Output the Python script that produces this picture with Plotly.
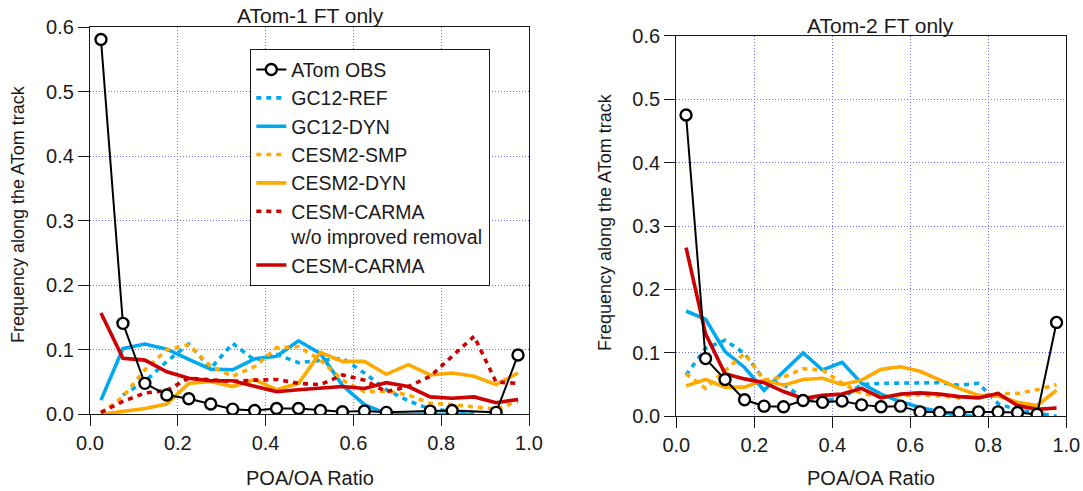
import plotly.graph_objects as go

# ---------------- data ----------------
poa_oa_bins = [0.025, 0.075, 0.125, 0.175, 0.225, 0.275, 0.325, 0.375, 0.425, 0.475,
               0.525, 0.575, 0.625, 0.675, 0.725, 0.775, 0.825, 0.875, 0.925, 0.975]

# ATom-1 FT only
atom1_obs = [0.581, 0.141, 0.048, 0.030, 0.024, 0.016, 0.008, 0.006, 0.009, 0.009,
             0.006, 0.004, 0.005, 0.003, None, 0.005, 0.006, None, 0.003, 0.092]
atom1_gc12_ref = [None, 0.030, 0.051, 0.082, 0.109, 0.071, 0.110, 0.084, 0.093, 0.080,
                  0.084, 0.087, 0.064, 0.038, 0.021, 0.008, 0.005, 0.002, None, None]
atom1_gc12_dyn = [0.022, 0.102, 0.109, 0.101, 0.085, 0.070, 0.069, 0.086, 0.090, 0.114,
                  0.094, 0.045, 0.015, 0.001, 0.000, 0.000, 0.000, 0.000, None, None]
atom1_cesm2_smp = [0.002, 0.027, 0.069, 0.100, 0.108, 0.074, 0.059, 0.074, 0.103, 0.105,
                   0.084, 0.053, 0.035, 0.036, 0.030, 0.017, 0.015, 0.012, 0.008, 0.020]
atom1_cesm2_dyn = [0.000, 0.004, 0.009, 0.016, 0.048, 0.051, 0.043, 0.054, 0.038, 0.048,
                   0.096, 0.082, 0.082, 0.062, 0.077, 0.061, 0.064, 0.059, 0.046, 0.064]
atom1_carma_wo = [0.003, 0.020, 0.033, 0.037, 0.056, 0.053, 0.051, 0.053, 0.054, 0.048,
                  0.046, 0.061, 0.053, 0.035, 0.043, 0.059, 0.090, 0.121, 0.050, 0.048]
atom1_carma = [0.157, 0.087, 0.084, 0.066, 0.056, 0.052, 0.052, 0.043, 0.035, 0.038,
               0.041, 0.043, 0.040, 0.049, 0.043, 0.027, 0.025, 0.027, 0.018, 0.023]

# ATom-2 FT only
atom2_obs = [0.475, 0.091, 0.058, 0.026, 0.016, 0.015, 0.025, 0.022, 0.024, 0.018,
             0.015, 0.016, 0.007, 0.006, 0.006, 0.007, 0.007, 0.006, 0.003, 0.148]
atom2_gc12_ref = [0.065, 0.107, 0.120, 0.099, 0.058, 0.050, 0.029, 0.025, 0.028, 0.050,
                  0.052, 0.052, 0.053, 0.053, 0.049, 0.052, 0.020, 0.010, 0.005, 0.000]
atom2_gc12_dyn = [0.166, 0.153, 0.102, 0.077, 0.041, 0.070, 0.100, 0.073, 0.085, 0.052,
                  0.035, 0.023, 0.014, 0.007, 0.001, 0.000, None, None, None, None]
atom2_cesm2_smp = [0.067, 0.044, 0.072, 0.099, 0.057, 0.062, 0.075, 0.073, 0.052, 0.036,
                   0.031, 0.033, 0.034, 0.032, 0.029, 0.033, 0.036, 0.036, 0.042, 0.050]
atom2_cesm2_dyn = [0.048, 0.058, 0.046, 0.046, 0.057, 0.049, 0.058, 0.060, 0.050, 0.057,
                   0.074, 0.078, 0.071, 0.057, 0.044, 0.033, 0.032, 0.022, 0.017, 0.041]
atom2_carma = [0.266, 0.130, 0.067, 0.059, 0.053, 0.039, 0.028, 0.033, 0.035, 0.044,
               0.029, 0.035, 0.037, 0.035, 0.031, 0.029, 0.036, 0.017, 0.011, 0.013]

panel_titles = ["ATom-1 FT only", "ATom-2 FT only"]
x_title = "POA/OA Ratio"
y_title = "Frequency along the ATom track"

# ---------------- styling ----------------
BLUE = "#00A9EE"
ORANGE = "#FFAA00"
RED = "#CC0000"
DOT = "5px,5px"
FONT = "Liberation Sans, Arial, sans-serif"
INK = "#1a1a1a"

fig = go.Figure()

def model(xa, ya, y, name, color, dotted, rank, show):
    fig.add_trace(go.Scatter(
        x=poa_oa_bins, y=y, name=name, mode="lines",
        line=dict(color=color, width=3.6, dash=DOT if dotted else "solid"),
        xaxis=xa, yaxis=ya, legendrank=rank, showlegend=show,
        connectgaps=False))

def obs(xa, ya, y, show):
    fig.add_trace(go.Scatter(
        x=poa_oa_bins, y=y, name="ATom OBS", mode="lines+markers",
        line=dict(color="black", width=2),
        marker=dict(symbol="circle", size=11, color="white",
                    line=dict(color="black", width=2.4)),
        xaxis=xa, yaxis=ya, legendrank=1, showlegend=show, connectgaps=True))

# left panel
model("x", "y", atom1_gc12_ref, "GC12-REF", BLUE, True, 2, True)
model("x", "y", atom1_gc12_dyn, "GC12-DYN", BLUE, False, 3, True)
model("x", "y", atom1_cesm2_smp, "CESM2-SMP", ORANGE, True, 4, True)
model("x", "y", atom1_cesm2_dyn, "CESM2-DYN", ORANGE, False, 5, True)
model("x", "y", atom1_carma_wo, "CESM-CARMA<br>w/o improved removal", RED, True, 6, True)
model("x", "y", atom1_carma, "CESM-CARMA", RED, False, 7, True)
obs("x", "y", atom1_obs, True)

# right panel
model("x2", "y2", atom2_gc12_ref, "GC12-REF", BLUE, True, 2, False)
model("x2", "y2", atom2_gc12_dyn, "GC12-DYN", BLUE, False, 3, False)
model("x2", "y2", atom2_cesm2_smp, "CESM2-SMP", ORANGE, True, 4, False)
model("x2", "y2", atom2_cesm2_dyn, "CESM2-DYN", ORANGE, False, 5, False)
model("x2", "y2", atom2_carma, "CESM-CARMA", RED, False, 7, False)
obs("x2", "y2", atom2_obs, False)

W, H = 1083, 491
def px(v):
    return v / W
def py(v):
    return 1 - v / H

axis_common = dict(
    automargin=False,
    showline=True, linecolor=INK, linewidth=1.3, mirror=True,
    ticks="outside", ticklen=11, tickwidth=1.3, tickcolor=INK,
    showgrid=True, gridcolor="#7070ff", griddash="1px,2px", gridwidth=1,
    zeroline=False, tickfont=dict(family=FONT, size=20, color=INK),
    tickformat=".1f",
)

fig.update_layout(
    template="none",
    width=W, height=H,
    margin=dict(l=0, r=0, t=0, b=0, pad=0, autoexpand=False),
    paper_bgcolor="white", plot_bgcolor="white",
    font=dict(family=FONT, color=INK),
    xaxis=dict(domain=[px(90), px(529)], range=[0, 1], dtick=0.2, anchor="y", **axis_common),
    yaxis=dict(domain=[py(414.3), py(27.3)], range=[0, 0.6], dtick=0.1, anchor="x", **axis_common),
    xaxis2=dict(domain=[px(676.3), px(1066.3)], range=[0, 1], dtick=0.2, anchor="y2", **axis_common),
    yaxis2=dict(domain=[py(416.3), py(35.7)], range=[0, 0.6], dtick=0.1, anchor="x2", **axis_common),
    legend=dict(x=px(250), y=py(49), xanchor="left", yanchor="top",
                bgcolor="white", bordercolor=INK, borderwidth=1.3,
                font=dict(family=FONT, size=19.5, color=INK), valign="top",
                tracegroupgap=0),
    showlegend=True,
)

ann = []
ann.append(dict(text=panel_titles[0], x=px(310), y=py(15.8), xref="paper", yref="paper",
                showarrow=False, font=dict(size=21), xanchor="center", yanchor="middle"))
ann.append(dict(text=panel_titles[1], x=px(880), y=py(25.5), xref="paper", yref="paper",
                showarrow=False, font=dict(size=21), xanchor="center", yanchor="middle"))
ann.append(dict(text=x_title, x=px(309.5), y=py(478), xref="paper", yref="paper",
                showarrow=False, font=dict(size=20), xanchor="center", yanchor="middle"))
ann.append(dict(text=x_title, x=px(871), y=py(478), xref="paper", yref="paper",
                showarrow=False, font=dict(size=20), xanchor="center", yanchor="middle"))
ann.append(dict(text=y_title, x=px(18), y=py(214), xref="paper", yref="paper",
                showarrow=False, font=dict(size=18), textangle=-90,
                xanchor="center", yanchor="middle"))
ann.append(dict(text=y_title, x=px(605), y=py(222), xref="paper", yref="paper",
                showarrow=False, font=dict(size=18), textangle=-90,
                xanchor="center", yanchor="middle"))
fig.update_layout(annotations=ann)

fig.write_html("out.html")
